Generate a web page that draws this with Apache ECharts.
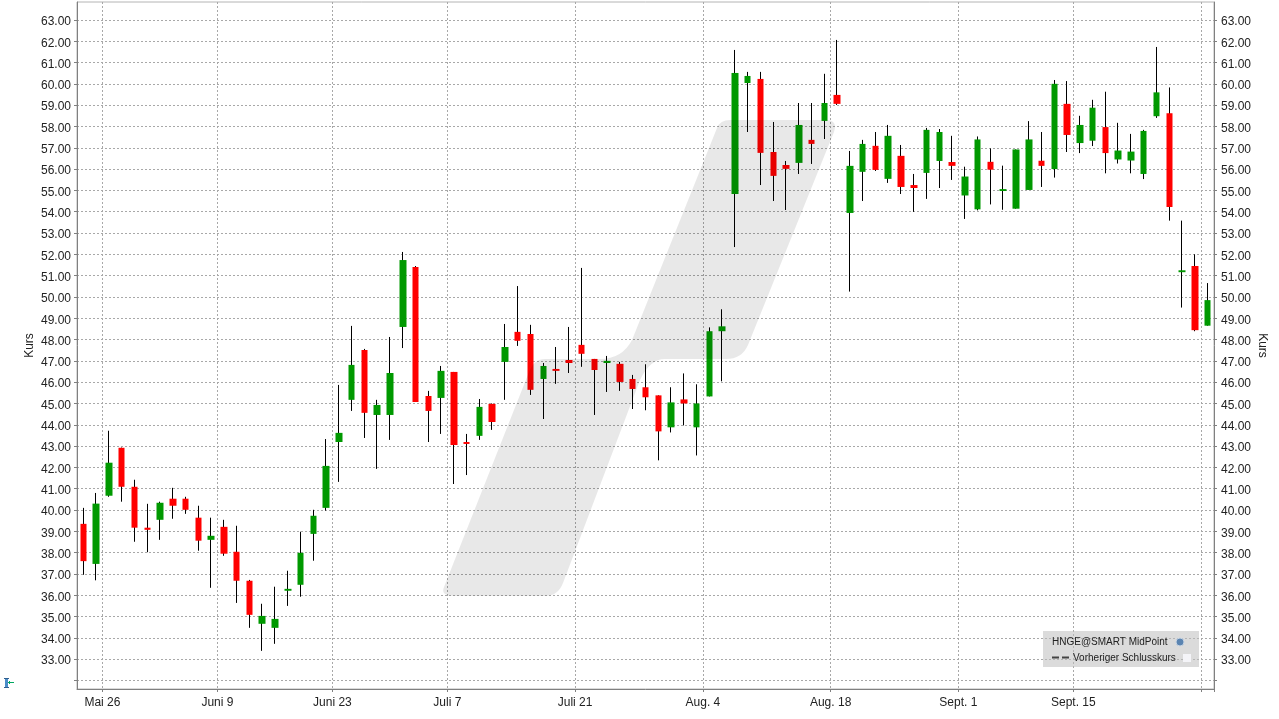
<!DOCTYPE html>
<html>
<head>
<meta charset="utf-8">
<title>HNGE</title>
<script src="https://cdn.jsdelivr.net/npm/echarts@6/dist/echarts.min.js"></script>
<style>
    html, body { margin: 0; padding: 0; background: #fff; }
    #main { width: 1279px; height: 719px; }
</style>
</head>
<body>
<div id="main"></div>
<script>
    // trading days, the x axis has no gaps for weekends and holidays
    var days = [
        '05-22', '05-23', '05-27', '05-28', '05-29', '05-30', '06-02', '06-03', '06-04', '06-05',
        '06-06', '06-09', '06-10', '06-11', '06-12', '06-13', '06-16', '06-17', '06-18', '06-20',
        '06-23', '06-24', '06-25', '06-26', '06-27', '06-30', '07-01', '07-02', '07-03', '07-07',
        '07-08', '07-09', '07-10', '07-11', '07-14', '07-15', '07-16', '07-17', '07-18', '07-21',
        '07-22', '07-23', '07-24', '07-25', '07-28', '07-29', '07-30', '07-31', '08-01', '08-04',
        '08-05', '08-06', '08-07', '08-08', '08-11', '08-12', '08-13', '08-14', '08-15', '08-18',
        '08-19', '08-20', '08-21', '08-22', '08-25', '08-26', '08-27', '08-28', '08-29', '09-02',
        '09-03', '09-04', '09-05', '09-08', '09-09', '09-10', '09-11', '09-12', '09-15', '09-16',
        '09-17', '09-18', '09-19', '09-22', '09-23', '09-24', '09-25', '09-26', '09-29'
    ];
    var opens = [
        39.35, 37.47, 40.67, 42.92, 41.09, 39.17, 39.54, 40.53, 40.53, 39.64,
        38.6, 39.21, 38.04, 36.68, 34.66, 34.47, 36.21, 36.49, 38.88, 40.1,
        43.19, 45.17, 47.51, 44.46, 44.46, 48.59, 51.4, 45.35, 45.26, 46.48,
        43.19, 43.48, 44.98, 46.95, 48.36, 48.26, 46.15, 46.62, 47.04, 47.75,
        47.09, 46.9, 46.86, 46.15, 45.76, 45.38, 43.88, 45.19, 43.88, 45.33,
        48.39, 54.83, 60.04, 60.23, 56.8, 56.19, 56.29, 57.37, 58.26, 59.48,
        53.94, 55.87, 57.09, 55.54, 56.62, 55.25, 55.82, 56.38, 56.33, 54.76,
        54.11, 56.34, 54.97, 54.14, 55.02, 56.39, 56.0, 59.06, 57.22, 57.33,
        57.97, 56.45, 56.4, 55.77, 58.48, 58.62, 51.16, 51.45, 48.65
    ];
    var closes = [
        37.6, 40.3, 42.22, 41.09, 39.17, 39.07, 40.34, 40.2, 40.01, 38.56,
        38.79, 37.95, 36.68, 35.08, 35.03, 34.89, 36.3, 37.99, 39.73, 42.07,
        43.62, 46.81, 44.56, 44.93, 46.43, 51.73, 45.07, 44.65, 46.53, 43.05,
        43.1, 44.84, 44.13, 47.65, 47.94, 45.64, 46.76, 46.53, 46.9, 47.33,
        46.57, 47.0, 46.01, 45.68, 45.29, 43.69, 45.05, 45.0, 45.0, 48.39,
        48.62, 60.51, 60.37, 56.76, 55.68, 56.01, 58.07, 57.18, 59.1, 59.06,
        56.15, 57.18, 55.96, 57.56, 55.16, 55.11, 57.84, 57.74, 56.15, 55.65,
        57.39, 55.97, 55.06, 56.92, 57.39, 56.15, 60.0, 57.6, 58.07, 58.88,
        56.75, 56.87, 56.82, 57.79, 59.6, 54.22, 51.25, 48.44, 49.85
    ];
    var lows = [
        36.96, 36.7, 40.62, 40.39, 38.51, 38.02, 38.6, 39.59, 39.82, 38.09,
        36.35, 37.85, 35.64, 34.47, 33.39, 33.72, 35.5, 35.93, 37.62, 39.97,
        41.32, 44.65, 43.38, 41.93, 43.29, 47.6, 45.07, 43.19, 43.57, 41.22,
        41.64, 43.29, 43.76, 45.17, 47.7, 45.4, 44.27, 45.92, 46.43, 46.72,
        44.46, 45.54, 45.59, 44.74, 44.68, 42.33, 43.64, 43.97, 42.56, 45.33,
        46.04, 52.34, 57.74, 55.25, 54.5, 54.08, 55.77, 56.24, 57.41, 59.01,
        50.25, 54.5, 55.91, 55.35, 54.83, 53.99, 54.6, 55.11, 55.49, 53.66,
        54.06, 54.34, 54.09, 54.14, 55.02, 55.16, 55.6, 56.8, 56.75, 57.08,
        55.8, 56.26, 55.8, 55.53, 58.4, 53.58, 49.5, 48.39, 48.65
    ];
    var highs = [
        40.1, 40.8, 43.72, 42.93, 41.42, 40.29, 40.39, 41.04, 40.62, 40.2,
        39.64, 39.54, 39.26, 36.72, 35.6, 36.4, 37.15, 38.98, 40.01, 43.33,
        45.87, 48.64, 47.56, 45.17, 48.12, 52.11, 51.45, 45.59, 46.76, 46.48,
        43.57, 45.21, 45.0, 48.73, 50.51, 48.69, 46.9, 47.65, 48.59, 51.36,
        47.09, 47.23, 46.95, 46.34, 46.84, 45.38, 45.76, 46.41, 45.9, 48.57,
        49.42, 61.59, 60.56, 60.56, 58.21, 56.38, 59.1, 59.1, 60.47, 62.06,
        56.85, 57.37, 57.74, 58.07, 57.13, 55.77, 57.93, 57.88, 57.56, 56.11,
        57.53, 56.97, 56.16, 56.92, 58.25, 57.74, 60.18, 60.13, 58.5, 59.25,
        59.63, 58.17, 57.65, 57.84, 61.73, 59.83, 53.58, 52.0, 50.65
    ];

    // first candle after each gridline, with the date shown there
    var weekStarts = [2, 11, 20, 29, 39, 49, 59, 69, 78, 88];
    var weekLabels = ['Mai 26', 'Juni 9', 'Juni 23', 'Juli 7', 'Juli 21', 'Aug. 4', 'Aug. 18', 'Sept. 1', 'Sept. 15', ''];

    var priceTicks = [32, 33, 34, 35, 36, 37, 38, 39, 40, 41, 42, 43, 44, 45, 46, 47, 48, 49, 50, 51, 52, 53, 54, 55, 56, 57, 58, 59, 60, 61, 62, 63];
    var priceLabels = [33, 34, 35, 36, 37, 38, 39, 40, 41, 42, 43, 44, 45, 46, 47, 48, 49, 50, 51, 52, 53, 54, 55, 56, 57, 58, 59, 60, 61, 62, 63];

    var seriesName = 'HNGE@SMART MidPoint';
    var prevCloseName = 'Vorheriger Schlusskurs';

    var wickData = days.map(function (d, i) {
        return [opens[i], closes[i], lows[i], highs[i]];
    });
    var bodyData = days.map(function (d, i) {
        return [opens[i], closes[i], Math.min(opens[i], closes[i]), Math.max(opens[i], closes[i])];
    });

    function isWeekStart(index) {
        return weekStarts.indexOf(index) >= 0;
    }

    var textColor = '#222';
    var textFont = '"Liberation Sans", Arial, sans-serif';
    var gridLine = { show: true, lineStyle: { color: '#a8a8a8', width: 1, type: [2, 2] } };

    function priceAxis(position, rotate, labelMargin, nameGap) {
        return {
            type: 'value',
            position: position,
            min: 31.6,
            max: 63.84,
            name: 'Kurs',
            nameLocation: 'middle',
            nameGap: nameGap,
            nameMoveOverlap: false,
            nameRotate: rotate,
            nameTextStyle: { color: textColor, fontSize: 12, fontFamily: textFont },
            axisLine: { show: true, lineStyle: { color: '#808080' } },
            axisTick: { show: true, length: 3, customValues: priceTicks, lineStyle: { color: '#808080' } },
            axisLabel: {
                margin: labelMargin,
                color: textColor,
                fontSize: 12,
                fontFamily: textFont,
                verticalAlign: 'top',
                lineHeight: 4,
                customValues: priceLabels,
                formatter: function (v) { return v.toFixed(2); }
            },
            splitLine: position === 'left' ? gridLine : { show: false }
        };
    }

    // grey logo behind the price action, graphic has no plain path type so register it
    echarts.graphic.registerShape('logoShape', echarts.graphic.extendPath(
        'M444 587 L529 372 Q534 359 545 359 L600 359 Q622 359 632 340 L717 128 Q720 120 730 120 L826 120 Q838 120 834 132 L748 345 Q742 359 726 359 L665 359 Q650 359 640 380 L563 583 Q558 596 545 596 L455 596 Q440 596 444 587 Z'
    ));

    var main1 = echarts.init(document.getElementById('main'), null, { renderer: 'canvas' });
    var option = {
        animation: false,
        backgroundColor: '#fff',
        grid: {
            left: 77, right: 65, top: 2, bottom: 30,
            outerBoundsMode: 'none',
            show: true,
            borderColor: '#b4b4b4',
            borderWidth: 1
        },
        xAxis: {
            type: 'category',
            data: days,
            axisLine: { show: true, lineStyle: { color: '#808080' } },
            axisTick: { show: true, length: 3, interval: isWeekStart, lineStyle: { color: '#808080' } },
            axisLabel: {
                margin: 8,
                color: textColor,
                fontSize: 12,
                fontFamily: textFont,
                interval: isWeekStart,
                padding: [0, 13, 0, 0],
                formatter: function (value, index) {
                    return weekLabels[weekStarts.indexOf(index)];
                }
            },
            splitLine: { show: true, interval: isWeekStart, lineStyle: gridLine.lineStyle }
        },
        yAxis: [priceAxis('left', 90, 6, 41), priceAxis('right', -90, 7, 42)],
        series: [
            {
                name: seriesName + ' Docht',
                type: 'candlestick',
                data: wickData,
                barWidth: 1,
                z: 2,
                itemStyle: { color: '#000', color0: '#000', borderColor: '#000', borderColor0: '#000', borderWidth: 1 }
            },
            {
                name: seriesName,
                type: 'candlestick',
                data: bodyData,
                barWidth: 7,
                z: 3,
                itemStyle: { color: '#009900', color0: '#ff0000', borderWidth: 0 }
            }
        ],
        graphic: [
            // lies over the candles and darkens them a little
            {
                type: 'logoShape',
                z: 100,
                silent: true,
                style: { fill: 'rgba(0,0,0,0.09)' }
            },
            // legend box
            {
                type: 'rect', z: 110,
                shape: { x: 1043, y: 631, width: 156, height: 36 },
                style: { fill: 'rgba(190,190,190,0.55)' }
            },
            {
                type: 'text', z: 111, x: 1052, y: 642,
                style: { text: seriesName, fill: '#222', font: '10px "Liberation Sans"', textVerticalAlign: 'middle' }
            },
            {
                type: 'text', z: 111, x: 1073, y: 658,
                style: { text: prevCloseName, fill: '#222', font: '10px "Liberation Sans"', textVerticalAlign: 'middle' }
            },
            {
                type: 'line', z: 111,
                shape: { x1: 1052, y1: 657.5, x2: 1070, y2: 657.5 },
                style: { stroke: '#444', lineWidth: 2, lineDash: [7, 3] }
            },
            {
                type: 'circle', z: 111,
                shape: { cx: 1180, cy: 642, r: 4 },
                style: { fill: '#5b84b1', stroke: '#c8d4e2', lineWidth: 1 }
            },
            {
                type: 'rect', z: 111,
                shape: { x: 1183, y: 654, width: 8, height: 8 },
                style: { fill: '#f4f4f8' }
            },
            // small marker at the lower left
            { type: 'rect', z: 111, shape: { x: 5, y: 678, width: 3, height: 10 }, style: { fill: '#4a8cc8' } },
            { type: 'rect', z: 111, shape: { x: 4, y: 678, width: 5, height: 1 }, style: { fill: '#2f5f8f' } },
            { type: 'rect', z: 111, shape: { x: 4, y: 687, width: 5, height: 1 }, style: { fill: '#2f5f8f' } },
            { type: 'rect', z: 111, shape: { x: 8, y: 682, width: 6, height: 1 }, style: { fill: '#00a860' } },
            { type: 'rect', z: 111, shape: { x: 9, y: 681, width: 1, height: 3 }, style: { fill: '#00a860' } }
        ]
    };
    main1.setOption(option);
</script>
</body>
</html>
